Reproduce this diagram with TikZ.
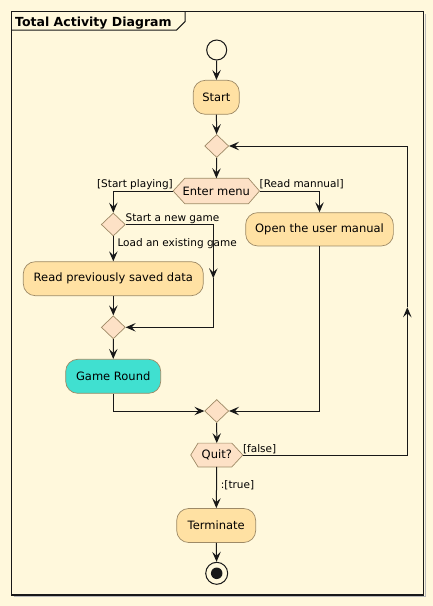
\documentclass[tikz,border=0pt]{standalone}
\usepackage{fontspec}
\setmainfont{DejaVu Sans}
\usetikzlibrary{arrows.meta,shapes.geometric,backgrounds}
\definecolor{bgcol}{HTML}{FFF8DC}
\definecolor{actfill}{HTML}{FFE1A3}
\definecolor{diafill}{HTML}{FDE1C6}
\definecolor{bordcol}{HTML}{9E8A66}
\definecolor{turq}{HTML}{40E0D0}
\definecolor{linecol}{HTML}{181818}
\tikzset{
  actbox/.style={rectangle, rounded corners=12pt, draw=bordcol, fill=actfill, line width=0.7pt,
    minimum height=34pt, inner sep=0pt, font=\fontsize{11.5}{13.8}\selectfont},
  diabox/.style={diamond, draw=bordcol, fill=diafill, line width=0.7pt, inner sep=0pt,
    minimum width=24pt, minimum height=23pt},
  hexbox/.style={rectangle, draw=none, inner sep=0pt, font=\fontsize{11.5}{13.8}\selectfont},
  hexshape/.style={draw=bordcol, fill=diafill, line width=0.7pt},
  arr/.style={draw=linecol, line width=1pt, -{Stealth[length=10pt,width=8.5pt,inset=4pt]}},
  ln/.style={draw=linecol, line width=1pt},
  lbl/.style={font=\fontsize{10.5}{12.6}\selectfont, inner sep=0pt, anchor=base west},
}
\begin{document}
\begin{tikzpicture}[x=1pt,y=-1pt]
\useasboundingbox (0,0) rectangle (433,606);
\begin{scope}[on background layer]
  \fill[bgcol] (0,0) rectangle (433,606);
  \draw[gray!55, line width=1pt] (13.5,596.5) -- (425,596.5) -- (425,13.5);
\end{scope}
% frame
\draw[line width=1.4pt, linecol] (11.7,11.7) rectangle (423.3,594.8);
\draw[line width=1pt, linecol] (11.7,30) -- (176.7,30) -- (185,21.7) -- (185,11.7);
\node[lbl, font=\bfseries\fontsize{12.5}{15}\selectfont] (title) at (15,26) {Total Activity Diagram};

% nodes
\node[circle, draw=linecol, fill=bgcol, line width=1pt, minimum size=20pt, inner sep=0pt] (startc) at (216.7,50) {};
\node[actbox, minimum width=46pt] (startbox) at (216.3,97.3) {Start};
\node[diabox] (d1) at (216.7,146) {};
\node[hexbox, minimum width=86pt, minimum height=25pt] (menu) at (216.3,191) {Enter menu};
\node[diabox] (d2) at (113.3,224.5) {};
\node[actbox, minimum width=147.7pt, minimum height=33.3pt] (manual) at (319.5,229.3) {Open the user manual};
\node[actbox, minimum width=180pt] (readbox) at (113.3,278.7) {Read previously saved data};
\node[diabox] (d3) at (113.3,327.3) {};
\node[actbox, fill=turq, minimum width=95pt] (game) at (113.2,376.3) {Game Round};
\node[diabox] (d4) at (216.7,411) {};
\node[hexbox, minimum width=51.7pt, minimum height=23.4pt] (quit) at (216.8,455) {Quit?};
\node[actbox, minimum width=79pt] (term) at (216.2,525.5) {Terminate};
\node[circle, draw=linecol, fill=bgcol, line width=1pt, minimum size=22pt, inner sep=0pt] (endc) at (216.7,573.3) {};
\node[circle, fill=linecol, minimum size=11.5pt, inner sep=0pt] (endd) at (endc) {};

% hexagon outlines
\begin{scope}[on background layer]
  \path[hexshape] (menu.west) -- ([xshift=11.7pt]menu.north west) -- ([xshift=-11pt]menu.north east)
    -- (menu.east) -- ([xshift=-11pt]menu.south east) -- ([xshift=11.7pt]menu.south west) -- cycle;
  \path[hexshape] (quit.west) -- ([xshift=7.3pt]quit.north west) -- ([xshift=-11pt]quit.north east)
    -- (quit.east) -- ([xshift=-11pt]quit.south east) -- ([xshift=7.3pt]quit.south west) -- cycle;
\end{scope}

% helper coordinates
\coordinate (m1) at (213.3,278.3);
\coordinate (m2) at (407.3,307.3);
\coordinate (r1) at (407.3,455);

% connectors
\draw[arr] (startc) -- (startbox);
\draw[arr] (startbox) -- (d1);
\draw[arr] (d1) -- (menu);
\draw[arr] (menu.west) -| (d2.north);
\draw[arr] (menu.east) -| (manual.north);
\draw[arr] (d2.east) -| (m1);
\draw[arr] (m1) |- (d3.east);
\draw[arr] (d2) -- (readbox);
\draw[arr] (readbox) -- (d3);
\draw[arr] (d3) -- (game);
\draw[arr] (game.south) |- (d4.west);
\draw[arr] (manual.south) |- (d4.east);
\draw[arr] (d4) -- (quit);
\draw[arr] (quit.east) -- (r1) -- (m2);
\draw[arr] (m2) |- (d1.east);
\draw[arr] (quit) -- (term);
\draw[arr] (term) -- (endc);

% labels
\node[lbl, anchor=base east] (lsp) at (173,187.3) {[Start playing]};
\node[lbl] (lrm) at (259.5,187.3) {[Read mannual]};
\node[lbl] (lng) at (125.5,221.7) {Start a new game};
\node[lbl] (leg) at (117.3,246.7) {Load an existing game};
\node[lbl] (lf) at (242.9,452.7) {[false]};
\node[lbl] (lt) at (220.7,488.3) {:[true]};
\end{tikzpicture}
\end{document}
